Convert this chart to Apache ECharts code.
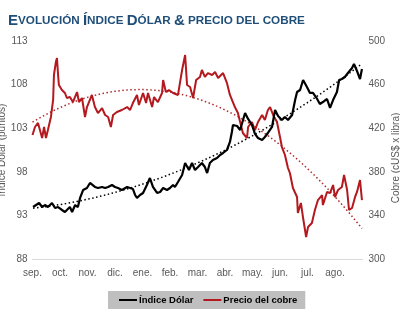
<!DOCTYPE html>
<html>
<head>
<meta charset="utf-8">
<script src="https://cdn.jsdelivr.net/npm/echarts@6/dist/echarts.min.js"></script>
<style>
  html, body { margin: 0; padding: 0; background: #fff; }
  #chart { width: 400px; height: 323px; }
</style>
</head>
<body>
<div id="chart"></div>
<script>
// Month tick labels (Sept → Aug)
const months = ['sep.', 'oct.', 'nov.', 'dic.', 'ene.', 'feb.', 'mar.', 'abr.', 'may.', 'jun.', 'jul.', 'ago.'];

// Dollar index (points); time measured in months since 1 Sept
const dollarT = [0.02,0.13,0.24,0.35,0.45,0.56,0.71,0.82,0.93,1.07,1.18,1.25,1.36,1.44,1.55,1.65,1.73,1.84,1.98,2.09,2.16,2.27,2.38,2.53,2.64,2.75,2.89,3.00,3.11,3.25,3.44,3.55,3.65,3.73,3.80,3.91,4.02,4.16,4.27,4.38,4.53,4.64,4.75,4.89,5.00,5.11,5.18,5.29,5.44,5.55,5.62,5.69,5.80,5.91,6.02,6.16,6.27,6.35,6.45,6.56,6.71,6.82,6.93,7.07,7.18,7.25,7.29,7.44,7.55,7.73,7.84,7.98,8.09,8.20,8.35,8.45,8.56,8.71,8.82,8.93,9.07,9.18,9.29,9.44,9.55,9.62,9.73,9.84,9.98,10.09,10.20,10.35,10.45,10.56,10.71,10.82,10.93,11.07,11.15,11.25,11.36,11.47,11.62,11.69,11.80,11.91,11.98];
const dollarV = [93.96,94.19,94.42,93.96,94.19,93.96,94.42,93.85,93.96,93.62,93.39,93.62,93.96,93.39,94.19,93.96,95.00,95.91,96.14,96.72,96.83,96.26,96.14,96.26,96.14,96.26,96.49,96.26,96.14,95.91,96.26,96.14,96.03,95.34,95.00,95.34,95.57,96.49,97.29,96.26,95.57,95.68,96.14,95.91,96.14,96.49,96.26,96.83,97.63,99.01,99.12,98.21,99.01,98.21,98.55,99.01,98.55,97.86,99.01,99.35,99.58,99.93,100.16,100.50,101.42,102.56,103.37,103.25,102.79,104.74,104.06,103.37,102.34,101.88,101.65,101.99,102.45,103.14,105.09,104.40,103.94,104.28,103.94,104.51,106.23,107.15,107.38,108.53,107.72,107.04,107.04,106.35,105.78,106.00,106.35,105.32,106.23,107.15,108.53,108.64,108.87,109.33,109.90,110.36,109.56,108.64,109.79];

// Copper price (US cents per pound)
const copperT = [0.00,0.09,0.20,0.27,0.35,0.42,0.49,0.56,0.67,0.75,0.78,0.85,0.89,0.93,0.96,1.07,1.18,1.25,1.36,1.47,1.62,1.69,1.80,1.91,1.98,2.16,2.27,2.38,2.53,2.64,2.75,2.85,2.93,3.07,3.25,3.44,3.55,3.65,3.80,3.87,4.02,4.13,4.20,4.35,4.42,4.56,4.71,4.75,4.85,4.96,5.11,5.29,5.36,5.44,5.55,5.62,5.73,5.84,5.95,6.09,6.16,6.27,6.38,6.53,6.64,6.75,6.93,7.07,7.18,7.36,7.47,7.55,7.65,7.80,7.84,7.98,8.09,8.20,8.35,8.45,8.56,8.64,8.75,8.89,9.00,9.07,9.18,9.29,9.36,9.47,9.62,9.65,9.76,9.84,9.95,10.02,10.16,10.27,10.38,10.53,10.56,10.71,10.82,10.93,11.00,11.11,11.25,11.33,11.44,11.51,11.62,11.73,11.80,11.91,11.98];
const copperV = [413.8,421.1,424.8,418.3,411.0,421.1,411.0,418.3,430.3,445.9,468.8,480.7,484.4,468.8,459.6,455.0,452.3,447.7,448.6,444.0,453.2,444.0,447.7,430.3,439.4,450.5,439.4,433.9,438.5,432.1,430.3,421.1,432.1,434.9,436.7,439.4,436.7,443.1,450.5,441.3,452.3,443.1,452.3,439.4,448.6,444.0,452.3,464.2,453.2,455.0,452.3,450.5,452.3,473.4,487.1,459.6,457.8,447.7,464.2,467.0,473.4,467.0,470.6,468.8,471.6,466.0,470.6,461.5,450.5,439.4,433.9,425.7,415.6,411.0,421.1,425.7,418.3,425.7,432.1,427.5,436.7,439.4,432.1,425.7,411.9,402.7,395.4,383.5,378.9,365.1,356.9,342.2,351.4,337.6,320.2,329.4,333.0,345.0,354.1,358.7,349.5,361.5,360.5,367.9,356.9,363.3,366.1,377.1,363.3,345.0,346.8,356.9,361.5,372.5,354.1];

// Axis titles
const leftTitle = 'Índice Dólar (puntos)';
const rightTitle = 'Cobre (cUS$ x libra)';

// Second-order least-squares trend of a series
function quadFit(t, v) {
  const S = [0, 0, 0, 0, 0], R = [0, 0, 0];
  for (let i = 0; i < t.length; i++) {
    let p = 1;
    for (let k = 0; k < 5; k++) { S[k] += p; if (k < 3) R[k] += p * v[i]; p *= t[i]; }
  }
  const A = [[S[0], S[1], S[2], R[0]], [S[1], S[2], S[3], R[1]], [S[2], S[3], S[4], R[2]]];
  for (let c = 0; c < 3; c++) {
    for (let r = c + 1; r < 3; r++) {
      const f = A[r][c] / A[c][c];
      for (let k = c; k < 4; k++) A[r][k] -= f * A[c][k];
    }
  }
  const x = [0, 0, 0];
  for (let r = 2; r >= 0; r--) {
    let s = A[r][3];
    for (let k = r + 1; k < 3; k++) s -= A[r][k] * x[k];
    x[r] = s / A[r][r];
  }
  return x;
}

function trendLine(t, v) {
  const c = quadFit(t, v);
  const out = [];
  for (let i = 0; i <= 60; i++) {
    const x = t[0] + (t[t.length - 1] - t[0]) * i / 60;
    out.push([x, c[0] + c[1] * x + c[2] * x * x]);
  }
  return out;
}

const zip = (a, b) => a.map((x, i) => [x, b[i]]);

const labelColor = '#595959';
const FONT = 'Liberation Sans';

const chart = echarts.init(document.getElementById('chart'), null, { renderer: 'canvas' });
chart.setOption({
  animation: false,
  backgroundColor: '#fff',
  title: {
    left: 3,
    top: 8,
    text: '{b|E}{s|VOLUCIÓN }{b|Í}{s|NDICE }{b|D}{s|ÓLAR }{b|&}{s| PRECIO DEL COBRE}',
    textStyle: {
      rich: {
        b: { fontFamily: FONT, fontWeight: 'bold', fontSize: 15, color: '#1f4e79' },
        s: { fontFamily: FONT, fontWeight: 'bold', fontSize: 11.7, color: '#1f4e79' }
      }
    }
  },
  graphic: [
    {
      type: 'text', x: 2, y: 150, rotation: Math.PI / 2,
      style: { text: leftTitle, fill: labelColor, font: '10px "Liberation Sans"', align: 'center', verticalAlign: 'middle' }
    },
    {
      type: 'text', x: 396, y: 158, rotation: Math.PI / 2,
      style: { text: rightTitle, fill: labelColor, font: '10px "Liberation Sans"', align: 'center', verticalAlign: 'middle' }
    }
  ],
  legend: {
    left: 108,
    top: 291,
    backgroundColor: '#bfbfbf',
    padding: [4, 8, 4, 11],
    itemGap: 10,
    itemWidth: 18,
    itemHeight: 2,
    icon: 'rect',
    textStyle: { fontFamily: FONT, fontWeight: 'bold', fontSize: 9.5, color: '#000', padding: [0, 0, 0, -3] },
    data: ['Índice Dólar', 'Precio del cobre']
  },
  grid: { left: 32.5, right: 37.5, top: 41, bottom: 64, containLabel: false },
  xAxis: {
    type: 'value',
    min: 0,
    max: 12,
    interval: 1,
    axisLine: { lineStyle: { color: '#d9d9d9', width: 1 } },
    axisTick: { show: false },
    splitLine: { show: false },
    axisLabel: {
      color: labelColor, fontFamily: FONT, fontSize: 10, margin: 9,
      showMaxLabel: false,
      formatter: v => months[v] || ''
    }
  },
  yAxis: [
    {
      type: 'value', min: 88, max: 113, interval: 5, position: 'left',
      axisLine: { show: false }, axisTick: { show: false }, splitLine: { show: false },
      axisLabel: { color: labelColor, fontFamily: FONT, fontSize: 10, margin: 5 }
    },
    {
      type: 'value', min: 300, max: 500, interval: 40, position: 'right',
      axisLine: { show: false }, axisTick: { show: false }, splitLine: { show: false },
      axisLabel: { color: labelColor, fontFamily: FONT, fontSize: 10, margin: 6 }
    }
  ],
  series: [
    {
      type: 'line', yAxisIndex: 1, silent: true, showSymbol: false,
      data: trendLine(copperT, copperV),
      lineStyle: { color: '#b0282b', width: 1.5, type: [1.5, 2.5] }
    },
    {
      type: 'line', yAxisIndex: 0, silent: true, showSymbol: false,
      data: trendLine(dollarT, dollarV),
      lineStyle: { color: '#000', width: 1.5, type: [1.5, 2.5] }
    },
    {
      name: 'Precio del cobre', type: 'line', yAxisIndex: 1, showSymbol: false,
      data: zip(copperT, copperV),
      itemStyle: { color: '#b3191e' },
      lineStyle: { color: '#b3191e', width: 2 }
    },
    {
      name: 'Índice Dólar', type: 'line', yAxisIndex: 0, showSymbol: false,
      data: zip(dollarT, dollarV),
      itemStyle: { color: '#000' },
      lineStyle: { color: '#000', width: 2.2 }
    }
  ]
});
</script>
</body>
</html>
